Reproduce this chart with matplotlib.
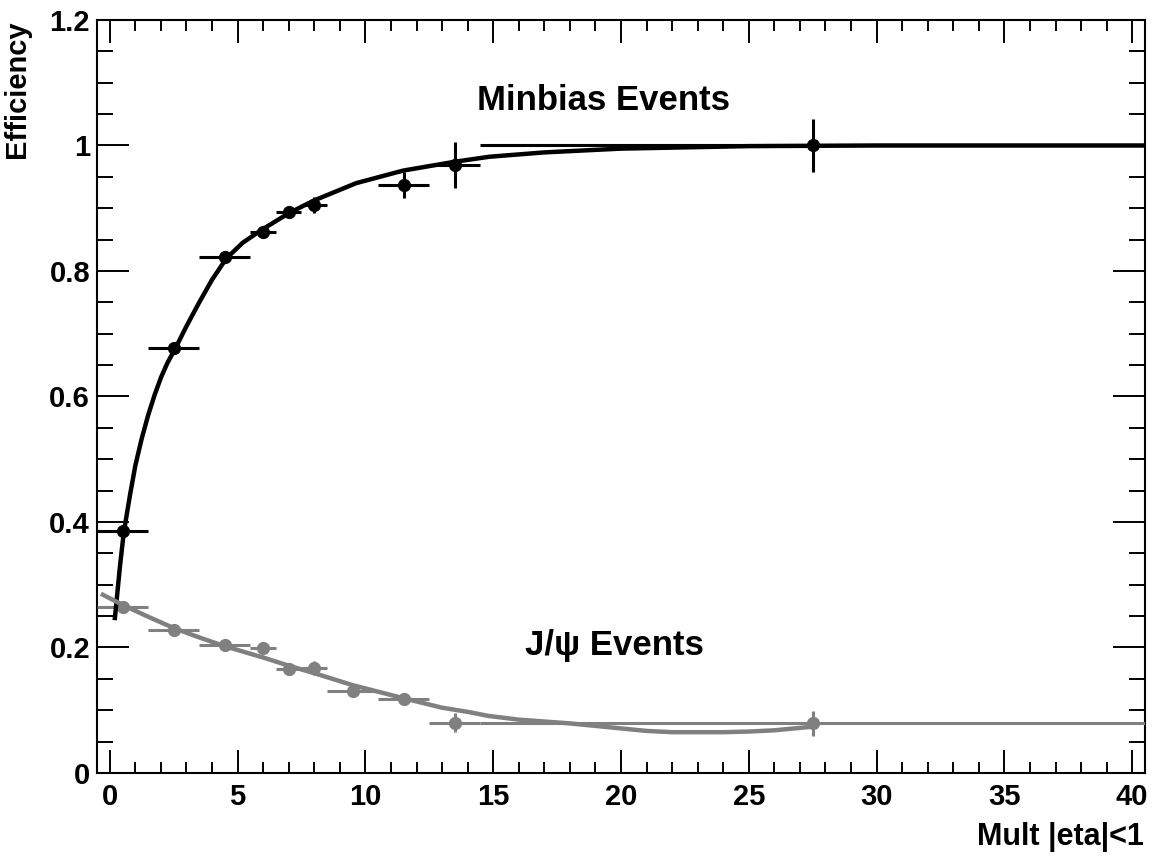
import numpy as np
import matplotlib
matplotlib.use("Agg")
import matplotlib.pyplot as plt
from matplotlib.ticker import MultipleLocator, FuncFormatter

# Minbias events (black)
mb_x = [0.5, 2.5, 4.5, 6.0, 7.0, 8.0, 11.5, 13.5, 27.5]
mb_xerr = [1.0, 1.0, 1.0, 0.5, 0.5, 0.5, 1.0, 1.0, 13.0]
mb_y = [0.385, 0.677, 0.822, 0.862, 0.894, 0.905, 0.937, 0.969, 1.0]
mb_yerr = [0.004, 0.005, 0.005, 0.006, 0.008, 0.013, 0.021, 0.037, 0.043]

# J/psi events (gray)
jp_x = [0.5, 2.5, 4.5, 6.0, 7.0, 8.0, 9.5, 11.5, 13.5, 27.5]
jp_xerr = [1.0, 1.0, 1.0, 0.5, 0.5, 0.5, 1.0, 1.0, 1.0, 13.0]
jp_y = [0.265, 0.228, 0.204, 0.199, 0.166, 0.167, 0.131, 0.118, 0.080, 0.079]
jp_yerr = [0.004, 0.004, 0.004, 0.006, 0.005, 0.011, 0.006, 0.010, 0.015, 0.020]

# fit curves
mb_fit_x = [0.2, 0.4, 0.55, 0.8, 1.0, 1.25, 1.5, 1.75, 2.0, 2.25, 2.57, 3.0, 3.5,
            4.0, 4.56, 5.2, 5.96, 7.0, 7.97, 9.64, 11.48, 13.48, 14.84, 17, 20,
            25, 30, 40.5]
mb_fit_y = [0.247, 0.33, 0.384, 0.445, 0.49, 0.533, 0.57, 0.602, 0.63, 0.653,
            0.677, 0.712, 0.75, 0.786, 0.82, 0.845, 0.866, 0.892, 0.912, 0.940,
            0.960, 0.974, 0.982, 0.989, 0.995, 0.999, 1.0, 1.0]

jp_fit_x = [-0.27, 0.5, 1.5, 2.5, 3.5, 4.5, 6.0, 7.0, 8.0, 9.5, 11.5, 13.0, 14.06,
            14.8, 16, 18, 20, 21, 22, 24, 25, 26, 27.3]
jp_fit_y = [0.284, 0.268, 0.249, 0.231, 0.216, 0.202, 0.184, 0.171, 0.159, 0.140,
            0.119, 0.104, 0.097, 0.091, 0.085, 0.079, 0.071, 0.067, 0.065, 0.065,
            0.066, 0.068, 0.073]

GRAY = "#808080"
FONT = "Liberation Sans"

plt.rcParams["font.family"] = [FONT, "DejaVu Sans"]
plt.rcParams["font.weight"] = "bold"

fig = plt.figure(figsize=(11.52, 8.58), dpi=100)
ax = fig.add_axes([0.0842, 0.0991, 0.9097, 0.8776])

ax.errorbar(mb_x, mb_y, xerr=mb_xerr, yerr=mb_yerr, fmt="o", color="black",
            ms=8.5, elinewidth=2.2, capsize=0, zorder=3)
ax.errorbar(jp_x, jp_y, xerr=jp_xerr, yerr=jp_yerr, fmt="o", color=GRAY,
            ms=8.5, elinewidth=2.2, capsize=0, zorder=3)
ax.plot(mb_fit_x, mb_fit_y, color="black", lw=3.2, zorder=4)
ax.plot(jp_fit_x, jp_fit_y, color=GRAY, lw=3.2, zorder=4)

ax.set_xlim(-0.5, 40.5)
ax.set_ylim(0, 1.2)

ax.xaxis.set_major_locator(MultipleLocator(5))
ax.xaxis.set_minor_locator(MultipleLocator(1))
ax.yaxis.set_major_locator(MultipleLocator(0.2))
ax.yaxis.set_minor_locator(MultipleLocator(0.05))
ax.yaxis.set_major_formatter(FuncFormatter(lambda v, p: "%g" % round(v, 2)))

ax.tick_params(axis="both", which="both", direction="in", top=True, right=True,
               width=1.4, labelsize=21)
ax.tick_params(axis="x", which="major", length=16.5, pad=7)
ax.tick_params(axis="x", which="minor", length=8)
ax.tick_params(axis="y", which="major", length=23, pad=5)
ax.tick_params(axis="y", which="minor", length=11.5)
for s in ax.spines.values():
    s.set_linewidth(1.5)

ax.set_xlabel("Mult |eta|<1", fontsize=22, fontweight="bold", ha="right", x=1.0)
ax.set_ylabel("Efficiency", fontsize=21, fontweight="bold", ha="right",
              va="center", y=1.0)
ax.xaxis.set_label_coords(0.9985, -0.065)
ax.yaxis.set_label_coords(-0.0765, 1.0)

ax.text(14.37, 1.057, "Minbias Events", fontsize=25, fontweight="bold",
        ha="left", va="baseline")
ax.text(16.24, 0.188, "J/\u03c8 Events", fontsize=25, fontweight="bold",
        ha="left", va="baseline")

fig.savefig("out.png", dpi=100)
